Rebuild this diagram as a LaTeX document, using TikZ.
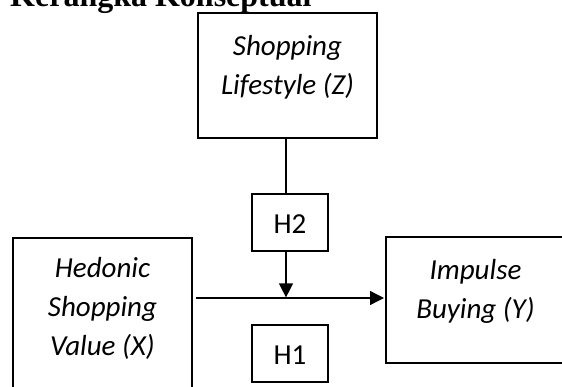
\documentclass[tikz,border=0pt]{standalone}
\usepackage{fontspec}
\setmainfont{Liberation Serif}
\newfontfamily\calibrifont{Carlito}
\usetikzlibrary{arrows.meta}
\tikzset{
  x=1pt, y=1pt,
  box/.style={draw=black, line width=2pt, inner sep=0pt},
  boxtext/.style={font=\calibrifont\itshape\fontsize{29}{39}\selectfont, align=center, inner sep=0pt, anchor=north},
  htext/.style={font=\calibrifont\fontsize{29}{34}\selectfont, inner sep=0pt, anchor=base},
  conn/.style={draw=black, line width=1.3pt},
  arr/.style={conn, -{Triangle[length=14pt, width=14pt]}},
  titletext/.style={font=\bfseries\fontsize{32}{38}\selectfont, inner sep=0pt, anchor=base west}
}
\begin{document}
\begin{tikzpicture}
\clip (0,0) rectangle (562,386);
% title
\node[titletext] (title) at (10,379) {Kerangka Konseptual};
% boxes
\node[box, minimum width=179pt, minimum height=125pt] (shop) at (287.5,310.5) {};
\node[boxtext] (shopT) at (287.5,353) {\rule{0pt}{22pt}Shopping\\Lifestyle (Z)};
\node[box, minimum width=76pt, minimum height=57pt] (h2) at (290,163.5) {};
\node[htext] (h2T) at (290,153) {H2};
\node[box, minimum width=76pt, minimum height=57pt] (h1) at (290,32.5) {};
\node[htext] (h1T) at (290,22) {H1};
\node[box, minimum width=179pt, minimum height=162pt] (hed) at (102.5,67) {};
\node[boxtext] (hedT) at (102.5,131) {\rule{0pt}{22pt}Hedonic\\Shopping\\Value (X)};
\node[box, minimum width=179pt, minimum height=126pt] (imp) at (475.5,86.5) {};
\node[boxtext] (impT) at (475.5,129) {\rule{0pt}{22pt}Impulse\\Buying (Y)};
% junction
\coordinate (m) at (286,88);
% connectors
\draw[conn] (shop.south -| m) -- (h2.north -| m);
\draw[arr, shorten >=0.6pt] (h2.south -| m) -- (m);
\draw[arr, shorten <=3pt, shorten >=1pt] (hed.east |- m) -- (imp.west |- m);
\end{tikzpicture}
\end{document}
